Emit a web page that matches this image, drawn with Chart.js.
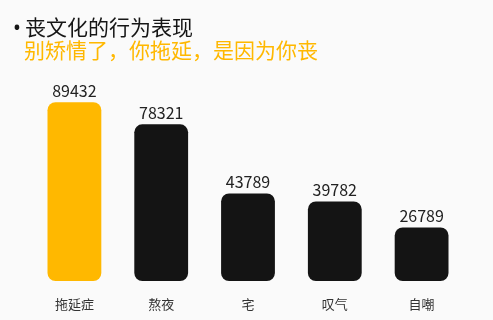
<!DOCTYPE html>
<html>
<head>
<meta charset="utf-8">
<script src="https://cdn.jsdelivr.net/npm/chart.js"></script>
<style>
  html, body { margin: 0; padding: 0; background: #fafafa; }
  #wrap { width: 493px; height: 320px; position: relative; }
  #moodChart { position: absolute; left: 0; top: 0; }
  .head {
    position: absolute; left: 13px; top: 15px;
    font-family: "Noto Sans CJK SC", "Noto Sans", sans-serif;
    font-size: 21px; line-height: 22px; white-space: nowrap;
  }
  .head .main { color: #161616; }
  .head .dot { font-family: "Noto Sans", sans-serif; display: inline-block; width: 12px; }
  .head .sub { color: #ffb800; padding-left: 11px; }
</style>
</head>
<body>
<div id="wrap">
  <canvas id="moodChart" width="493" height="320"></canvas>
  <div class="head">
    <div class="main"><span class="dot">•</span>丧文化的行为表现</div>
    <div class="sub">别矫情了，你拖延，是因为你丧</div>
  </div>
</div>
<script>
// 丧文化的行为表现
const categories = ['拖延症', '熬夜', '宅', '叹气', '自嘲'];
const counts = [89432, 78321, 43789, 39782, 26789];
const highlightIndex = 0;

const YELLOW = '#ffb800';
const BLACK = '#141414';
const FONT = '"Noto Sans CJK SC", "Noto Sans", sans-serif';

// draws the value above each bar
const valueLabels = {
    id: 'valueLabels',
    afterDatasetsDraw(chart) {
        const { ctx } = chart;
        const meta = chart.getDatasetMeta(0);
        ctx.save();
        ctx.font = '16px ' + FONT;
        ctx.fillStyle = '#222';
        ctx.textAlign = 'center';
        ctx.textBaseline = 'alphabetic';
        meta.data.forEach((bar, i) => {
            ctx.fillText(String(counts[i]), bar.x, bar.y - 5);
        });
        ctx.restore();
    }
};

new Chart(document.getElementById('moodChart'), {
    type: 'bar',
    data: {
        labels: categories,
        datasets: [{
            data: counts,
            backgroundColor: counts.map((_, i) => i === highlightIndex ? YELLOW : BLACK),
            borderRadius: 8,
            borderSkipped: false,
            barPercentage: 0.62,
            categoryPercentage: 1
        }]
    },
    options: {
        responsive: false,
        animation: false,
        layout: { padding: { left: 31, right: 28, top: 81, bottom: 8 } },
        plugins: {
            legend: { display: false },
            tooltip: { enabled: false }
        },
        scales: {
            x: {
                grid: { display: false, drawTicks: false },
                border: { display: false },
                ticks: {
                    color: '#333',
                    padding: 15,
                    font: { family: FONT, size: 13 }
                },
                afterFit(scale) { scale.height = 31; }
            },
            y: {
                display: false,
                min: 0,
                max: 100000
            }
        }
    },
    plugins: [valueLabels]
});
</script>
</body>
</html>
